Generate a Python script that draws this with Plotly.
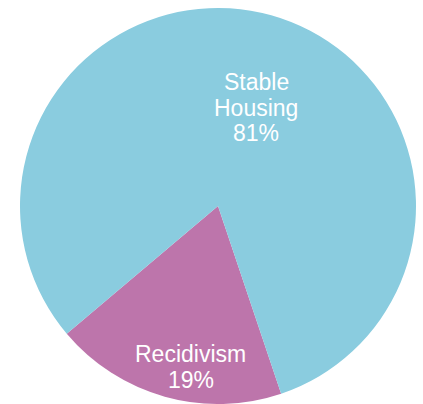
import plotly.graph_objects as go

labels = ["Recidivism", "Stable Housing"]
label_lines = [["Recidivism"], ["Stable", "Housing"]]
values = [19, 81]
colors = ["#BD75AB", "#8ACCDF"]

# figure geometry
W, H = 423, 404
ML, MR, MT, MB = 18, 5, 8, 0

fig = go.Figure(go.Pie(
    labels=labels,
    values=values,
    sort=False,
    direction="clockwise",
    rotation=161.4,
    marker=dict(colors=colors, line=dict(width=0)),
    textinfo="none",
    showlegend=False,
    hoverinfo="label+percent",
))

# label block centres (pixels) and line spacing
label_pos = {"Recidivism": (190.5, 354), "Stable Housing": (256, 82)}
line_gap = 25.5
total = sum(values)


def to_paper(px, py):
    return (px - ML) / (W - ML - MR), (H - MB - py) / (H - MT - MB)


annotations = []
for lab, lines, val in zip(labels, label_lines, values):
    x0, y0 = label_pos[lab]
    all_lines = lines + [f"{round(100 * val / total)}%"]
    for i, t in enumerate(all_lines):
        xp, yp = to_paper(x0, y0 + i * line_gap)
        annotations.append(dict(
            x=xp, y=yp, xref="paper", yref="paper",
            text=t, showarrow=False, xanchor="center", yanchor="middle",
            font=dict(family="Liberation Sans, Arial, Helvetica, sans-serif", size=23, color="white"),
        ))

fig.update_layout(
    width=W, height=H,
    margin=dict(l=ML, r=MR, t=MT, b=MB),
    paper_bgcolor="white",
    plot_bgcolor="white",
    annotations=annotations,
)

fig.write_html("out.html")
